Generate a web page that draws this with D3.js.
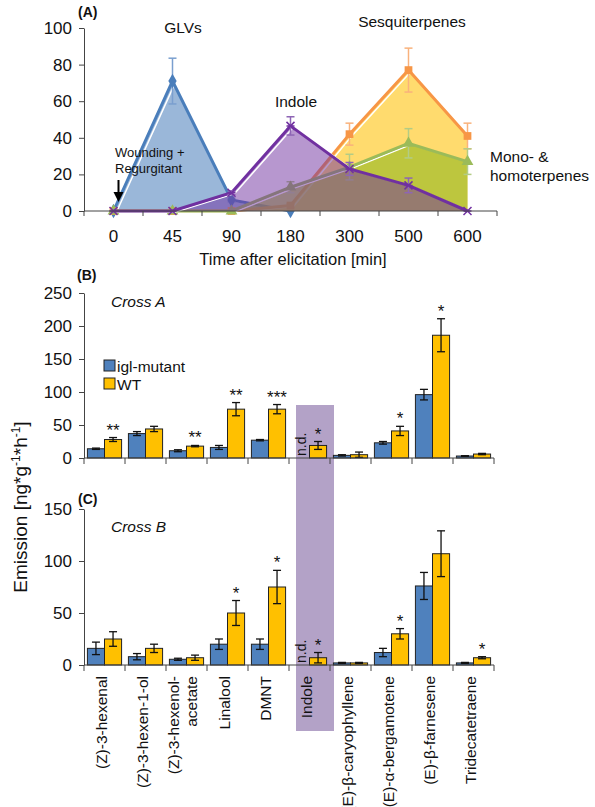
<!DOCTYPE html>
<html>
<head>
  <script src="https://d3js.org/d3.v7.js"></script>
  <style>
    html, body {
      margin: 0px;
      padding: 0px;
      background: #fff;
    }
    svg {
      font-family: "Liberation Sans", Arial, sans-serif;
    }
    .axis path, .axis line {
      stroke: #444;
    }
    .axis text {
      font-size: 17px;
      fill: #111;
    }
  </style>
</head>
<body>
  <div id="chart"></div>
  <script>

    /*
    DATA
    (null = point not plotted)
    */
    const timeLabels = ["0", "45", "90", "180", "300", "500", "600"];

    const glvMean    = [0, 71, 6, 0, null, null, null];
    const glvErr     = [0, 12.5, 1, 0, 0, 0, 0];
    const indoleMean = [0, 0, 10, 46.5, 23, 14, 0];
    const indoleErr  = [0, 0, 1, 5, 3.5, 4, 0];
    const sesqMean   = [0, 0, 0, 3, 42, 77, 41];
    const sesqErr    = [0, 0, 0, 1, 6, 12, 7];
    const monoMean   = [0, 0, 0, 13, 24, 37, 27];
    const monoErr    = [0, 0, 0, 3, 7, 8, 7];

    const compounds = ["(Z)-3-hexenal", "(Z)-3-hexen-1-ol", "(Z)-3-hexenol-acetate", "Linalool", "DMNT",
                       "Indole", "(E)-β-caryophyllene", "(E)-α-bergamotene", "(E)-β-farnesene", "Tridecatetraene"];

    // Cross A (panel B)
    const crossAMutant    = [14, 37, 11, 16, 27, 0, 4, 23, 96, 3];
    const crossAMutantErr = [1, 3, 1.5, 3, 1, 0, 1, 2, 8, 0.5];
    const crossAWT        = [28, 44, 18, 74, 74, 19, 5, 41, 186, 6];
    const crossAWTErr     = [3, 4, 1, 10, 7, 6, 4, 7, 25, 1];
    const crossASig       = ["**", "", "**", "**", "***", "*", "", "*", "*", ""];

    // Cross B (panel C)
    const crossBMutant    = [16, 8, 5.5, 20, 20, 0, 2, 12, 76, 2];
    const crossBMutantErr = [6, 3, 1, 5, 5, 0, 0.5, 4, 13, 0.5];
    const crossBWT        = [25, 16, 7, 50, 75, 7, 2, 30, 107, 7];
    const crossBWTErr     = [7, 4, 2.5, 12, 16, 5, 0.5, 5, 22, 1];
    const crossBSig       = ["", "", "", "*", "*", "*", "", "*", "", "*"];

    const notDetected = "Indole";

    /*
    SVG CANVAS
    */
    const width = 595, height = 807;
    const svg = d3.select("#chart")
      .append("svg")
      .attr("width", width)
      .attr("height", height);

    /*
    PANEL A - time course
    */
    const xA = d3.scaleBand().domain(timeLabels).range([84, 497]);
    const yA = d3.scaleLinear().domain([0, 100]).range([211, 28]);
    const cx = d => xA(d) + xA.bandwidth() / 2;

    const series = [
      {mean: glvMean, err: glvErr, line: "#4A7EBB", fill: "#95B3D7", op: 0.95, errCol: "#7A9FCF", marker: "diamond"},
      {mean: sesqMean, err: sesqErr, line: "#F79646", fill: "#FFD966", op: 0.95, errCol: "#F9B27C", marker: "square"},
      {mean: monoMean, err: monoErr, line: "#9BBB59", fill: "#A3BE2C", op: 0.72, errCol: "#B3CC85", marker: "triangle"},
      {mean: indoleMean, err: indoleErr, line: "#7030A0", fill: "#7030A0", op: 0.5, errCol: "#8E65B5", marker: "x"}
    ];

    const gA = svg.append("g");

    series.forEach(function(s) {
      const pts = timeLabels.map((t, i) => ({t: t, v: s.mean[i], e: s.err[i]}))
        .filter(d => d.v !== null);

      const area = d3.area()
        .x(d => cx(d.t))
        .y0(yA(0))
        .y1(d => yA(d.v));
      const line = d3.line()
        .x(d => cx(d.t))
        .y(d => yA(d.v));

      gA.append("path")
        .attr("d", area(pts))
        .attr("fill", s.fill)
        .attr("fill-opacity", s.op);

      // white highlight next to the line (excel shadow look)
      gA.append("path")
        .attr("d", line(pts))
        .attr("transform", "translate(3,1)")
        .attr("fill", "none")
        .attr("stroke", "#fff")
        .attr("stroke-width", 1.5);

      gA.append("path")
        .attr("d", line(pts))
        .attr("fill", "none")
        .attr("stroke", s.line)
        .attr("stroke-width", 3);

      // error bars
      const eb = gA.selectAll(null)
        .data(pts.filter(d => d.e > 0))
        .enter().append("g")
        .attr("stroke", s.errCol)
        .attr("stroke-width", 1.5);
      eb.append("line")
        .attr("x1", d => cx(d.t)).attr("x2", d => cx(d.t))
        .attr("y1", d => yA(d.v - d.e)).attr("y2", d => yA(d.v + d.e));
      eb.append("line")
        .attr("x1", d => cx(d.t) - 4).attr("x2", d => cx(d.t) + 4)
        .attr("y1", d => yA(d.v + d.e)).attr("y2", d => yA(d.v + d.e));
      eb.append("line")
        .attr("x1", d => cx(d.t) - 4).attr("x2", d => cx(d.t) + 4)
        .attr("y1", d => yA(d.v - d.e)).attr("y2", d => yA(d.v - d.e));

      // markers
      const m = gA.selectAll(null)
        .data(pts)
        .enter().append("path")
        .attr("transform", d => `translate(${cx(d.t)},${yA(d.v)})`);
      if (s.marker === "x") {
        m.attr("d", "M-4,-4L4,4M-4,4L4,-4M-4,0L4,0")
          .attr("stroke", s.line).attr("stroke-width", 1.5).attr("fill", "none");
      } else {
        const type = {square: d3.symbolSquare, triangle: d3.symbolTriangle, diamond: d3.symbolDiamond}[s.marker];
        m.attr("d", d3.symbol().type(type).size(60)())
          .attr("fill", s.line);
      }
    });

    // axes A
    svg.append("g")
      .attr("class", "axis")
      .attr("transform", "translate(84,0)")
      .call(d3.axisLeft(yA).tickValues([0, 20, 40, 60, 80, 100]).tickSize(5).tickSizeOuter(0).tickPadding(7));

    svg.append("g")
      .attr("class", "axis")
      .attr("transform", `translate(0,${yA(0)})`)
      .call(d3.axisBottom(xA).tickSize(0).tickPadding(19))
      .call(g => g.select(".domain").attr("d", `M84,0H497`));

    svg.append("g")
      .selectAll("line")
      .data(timeLabels.map(t => xA(t)).concat([xA.range()[1]]))
      .enter().append("line")
      .attr("x1", d => d).attr("x2", d => d)
      .attr("y1", yA(0)).attr("y2", yA(0) + 5)
      .attr("stroke", "#444");

    // annotations A
    const annA = [
      {t: "(A)", x: 78, y: 17, w: "bold", s: 14, a: "start"},
      {t: "GLVs", x: 183, y: 33, s: 15.5, a: "middle"},
      {t: "Indole", x: 296, y: 107, s: 15.5, a: "middle"},
      {t: "Sesquiterpenes", x: 412, y: 27, s: 15.5, a: "middle"},
      {t: "Mono- &", x: 490, y: 162, s: 15.5, a: "start"},
      {t: "homoterpenes", x: 490, y: 181, s: 15.5, a: "start"},
      {t: "Wounding +", x: 115, y: 157, s: 13, a: "start"},
      {t: "Regurgitant", x: 115, y: 173, s: 13, a: "start"},
      {t: "Time after elicitation [min]", x: 293, y: 265, s: 16.5, a: "middle"}
    ];
    svg.selectAll(null).data(annA).enter().append("text")
      .attr("x", d => d.x).attr("y", d => d.y)
      .attr("font-size", d => d.s)
      .attr("font-weight", d => d.w || "normal")
      .attr("text-anchor", d => d.a)
      .attr("fill", "#111")
      .text(d => d.t);

    // arrow
    svg.append("line")
      .attr("x1", cx("0") + 5).attr("x2", cx("0") + 5)
      .attr("y1", 180).attr("y2", 194)
      .attr("stroke", "#000").attr("stroke-width", 2);
    svg.append("path")
      .attr("d", `M${cx("0")},192L${cx("0") + 10},192L${cx("0") + 5},202Z`)
      .attr("fill", "#000");

    /*
    PANELS B and C - bar charts
    */
    const xB = d3.scaleBand().domain(compounds).range([84, 494]);
    const inner = d3.scaleBand().domain(["mutant", "wt"]).range([0, xB.bandwidth()]).paddingOuter(0.2);

    // indole highlight box
    svg.append("rect")
      .attr("x", xB(notDetected) + 7)
      .attr("width", xB.bandwidth() - 3)
      .attr("y", 405)
      .attr("height", 326)
      .attr("fill", "#B3A2C7");

    function barPanel(y, mutant, mutantErr, wt, wtErr, sig, ticks) {
      const g = svg.append("g");
      const rows = compounds.map((c, i) => ({c: c,
        bars: [{k: "mutant", v: mutant[i], e: mutantErr[i]}, {k: "wt", v: wt[i], e: wtErr[i]}],
        sig: sig[i]}));

      const grp = g.selectAll(null).data(rows).enter().append("g")
        .attr("transform", d => `translate(${xB(d.c)},0)`);

      const bars = grp.selectAll(null)
        .data(d => d.bars.filter(b => !(d.c === notDetected && b.k === "mutant")))
        .enter();

      bars.append("rect")
        .attr("x", d => inner(d.k))
        .attr("y", d => y(d.v))
        .attr("width", inner.bandwidth())
        .attr("height", d => y(0) - y(d.v))
        .attr("fill", d => d.k === "mutant" ? "#4F81BD" : "#FFC000")
        .attr("stroke", "#222")
        .attr("stroke-width", 1);

      const eb = bars.append("g").attr("stroke", "#111").attr("stroke-width", 1.3);
      const bx = d => inner(d.k) + inner.bandwidth() / 2;
      eb.append("line")
        .attr("x1", bx).attr("x2", bx)
        .attr("y1", d => y(Math.max(0, d.v - d.e))).attr("y2", d => y(d.v + d.e));
      eb.append("line")
        .attr("x1", d => bx(d) - 4).attr("x2", d => bx(d) + 4)
        .attr("y1", d => y(d.v + d.e)).attr("y2", d => y(d.v + d.e));
      eb.append("line")
        .attr("x1", d => bx(d) - 4).attr("x2", d => bx(d) + 4)
        .attr("y1", d => y(Math.max(0, d.v - d.e))).attr("y2", d => y(Math.max(0, d.v - d.e)));

      // significance stars
      grp.append("text")
        .attr("x", inner("wt") + inner.bandwidth() / 2)
        .attr("y", (d, i) => y(wt[i] + wtErr[i]) - 2)
        .attr("text-anchor", "middle")
        .attr("font-size", 17)
        .attr("fill", "#111")
        .text(d => d.sig);

      // n.d. label
      g.append("text")
        .attr("transform", `translate(${xB(notDetected) + inner("mutant") + inner.bandwidth() / 2 + 5},${y(0) - 2}) rotate(-90)`)
        .attr("font-size", 14)
        .attr("fill", "#111")
        .text("n.d.");

      // axes
      svg.append("g")
        .attr("class", "axis")
        .attr("transform", "translate(84,0)")
        .call(d3.axisLeft(y).tickValues(ticks).tickSize(5).tickSizeOuter(0).tickPadding(7));

      svg.append("line")
        .attr("x1", 84).attr("x2", xB.range()[1])
        .attr("y1", y(0)).attr("y2", y(0))
        .attr("stroke", "#444");
      svg.append("g").selectAll("line")
        .data(compounds.map(c => xB(c)).concat([xB.range()[1]]))
        .enter().append("line")
        .attr("x1", d => d).attr("x2", d => d)
        .attr("y1", y(0)).attr("y2", y(0) + 6)
        .attr("stroke", "#444");
    }

    const yB = d3.scaleLinear().domain([0, 250]).range([458, 293]);
    const yC = d3.scaleLinear().domain([0, 150]).range([665, 509]);

    barPanel(yB, crossAMutant, crossAMutantErr, crossAWT, crossAWTErr, crossASig, [0, 50, 100, 150, 200, 250]);
    barPanel(yC, crossBMutant, crossBMutantErr, crossBWT, crossBWTErr, crossBSig, [0, 50, 100, 150]);

    // panel labels
    const annB = [
      {t: "(B)", x: 77, y: 280, s: 14, w: "bold"},
      {t: "(C)", x: 78, y: 504, s: 14, w: "bold"},
      {t: "Cross A", x: 111, y: 307, s: 15.5, st: "italic"},
      {t: "Cross B", x: 111, y: 532, s: 15.5, st: "italic"},
      {t: "igl-mutant", x: 117, y: 372, s: 15.5},
      {t: "WT", x: 117, y: 390, s: 15.5}
    ];
    svg.selectAll(null).data(annB).enter().append("text")
      .attr("x", d => d.x).attr("y", d => d.y)
      .attr("font-size", d => d.s)
      .attr("font-weight", d => d.w || "normal")
      .attr("font-style", d => d.st || "normal")
      .attr("fill", "#111")
      .text(d => d.t);

    // legend swatches
    svg.append("rect").attr("x", 104).attr("y", 360).attr("width", 11).attr("height", 11)
      .attr("fill", "#4F81BD").attr("stroke", "#222");
    svg.append("rect").attr("x", 104).attr("y", 378).attr("width", 11).attr("height", 11)
      .attr("fill", "#FFC000").attr("stroke", "#222");

    // y axis title
    const yt = svg.append("text")
      .attr("transform", "translate(27,507) rotate(-90)")
      .attr("text-anchor", "middle")
      .attr("font-size", 19)
      .attr("fill", "#111");
    yt.append("tspan").text("Emission [ng*g");
    yt.append("tspan").attr("font-size", 12).attr("dy", -7).text("-1");
    yt.append("tspan").attr("dy", 7).text("*h");
    yt.append("tspan").attr("font-size", 12).attr("dy", -7).text("-1");
    yt.append("tspan").attr("dy", 7).text("]");

    // compound labels (rotated)
    const labelLines = {"(Z)-3-hexenol-acetate": ["(Z)-3-hexenol-", "acetate"]};
    compounds.forEach(function(c) {
      const lines = labelLines[c] || [c];
      const t = svg.append("text")
        .attr("transform", `translate(${xB(c) + xB.bandwidth() / 2 - 3},676) rotate(-90)`)
        .attr("text-anchor", "end")
        .attr("font-size", 15.5)
        .attr("fill", "#111");
      lines.forEach(function(l, j) {
        t.append("tspan")
          .attr("x", 0)
          .attr("dy", j === 0 ? (lines.length > 1 ? "-0.3em" : "0.35em") : "1.15em")
          .text(l);
      });
    });

  </script>
</body>
</html>
